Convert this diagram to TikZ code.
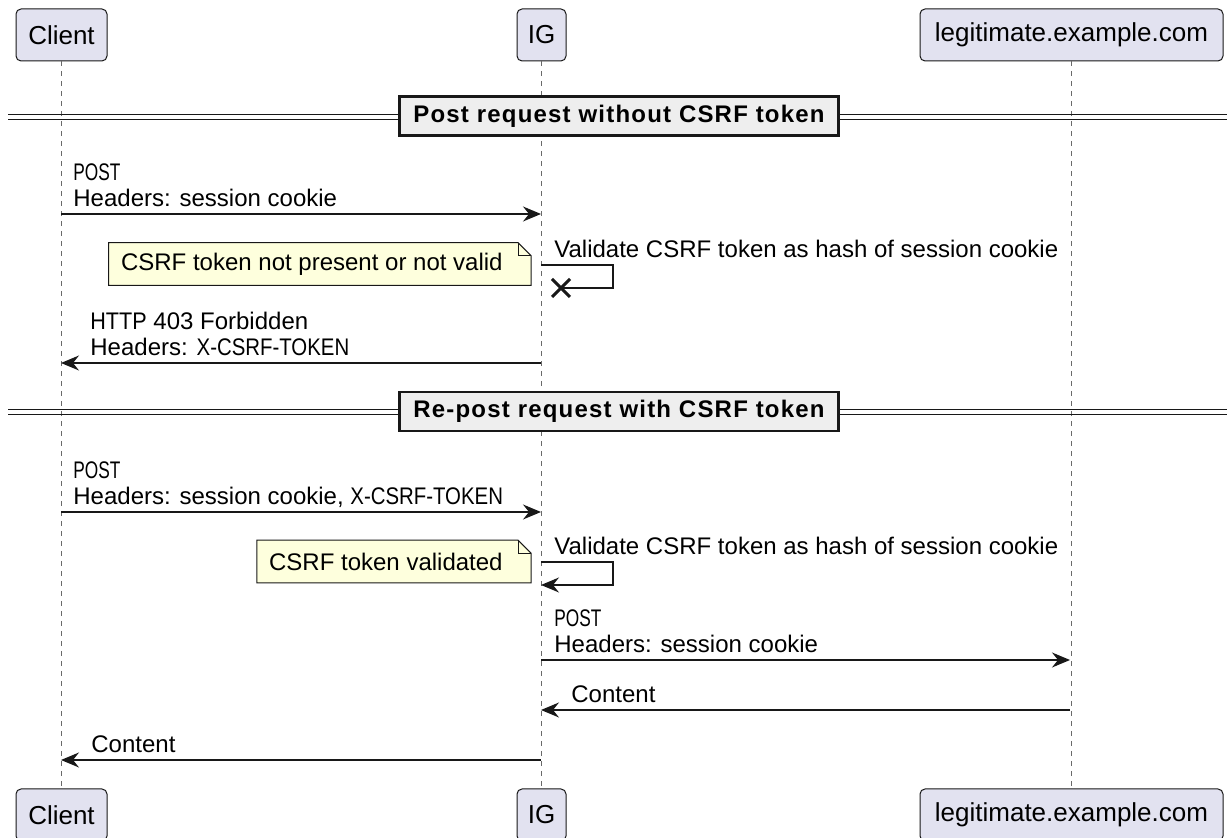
\documentclass[tikz,border=0pt]{standalone}
\usepackage{fontspec}
\setmainfont{Liberation Sans}
\newfontfamily\divfont[LetterSpace=5]{Liberation Sans}
\usetikzlibrary{arrows.meta,calc,backgrounds,shapes.misc}
\definecolor{partfill}{HTML}{E2E2F0}
\definecolor{notefill}{HTML}{FEFFDD}
\definecolor{divfill}{HTML}{EEEEEE}
\definecolor{ink}{HTML}{181818}
\newcommand{\tight}[2][0.85]{\scalebox{#1}[1]{#2}}
\tikzset{
  partbox/.style={draw=ink,fill=partfill,rounded corners=2.5pt,line width=0.5pt,
    minimum height=26pt,inner xsep=0pt,font=\fontsize{13}{15}\selectfont},
  life/.style={draw=ink!65,line width=0.5pt,dash pattern=on 2.5pt off 2.5pt},
  msg/.style={draw=ink,line width=0.75pt,-{Stealth[length=9pt,width=7.5pt,inset=3pt]}},
  loopline/.style={draw=ink,line width=0.75pt},
  lbl/.style={anchor=south west,inner sep=0pt,align=left,text depth=0pt,
    font=\fontsize{12}{13}\selectfont},
  divbox/.style={draw=ink,fill=divfill,line width=1.25pt,minimum height=19.5pt,
    inner xsep=7pt,font=\divfont\bfseries\fontsize{12}{14}\selectfont},
  divline/.style={draw=ink,line width=0.75pt},
  notetxt/.style={anchor=east,inner xsep=6pt,inner ysep=0pt,minimum height=21pt,
    font=\fontsize{12}{14}\selectfont},
  notebox/.style={draw=ink,fill=notefill,line width=0.5pt},
  lost/.style={draw=ink,cross out,line width=1.5pt,minimum size=7.5pt,inner sep=0pt},
}
\begin{document}
\begin{tikzpicture}[x=0.5pt,y=-0.5pt]
  \useasboundingbox (0,0) rectangle (1227,838);
  % participants, top and bottom
  \node[partbox,minimum width=45.5pt] (client) at (61.5,35) {Client};
  \node[partbox,minimum width=24.5pt] (ig) at (541.5,35) {IG};
  \node[partbox,minimum width=151.5pt] (site) at (1071.5,35) {legitimate.example.com};
  \node[partbox,minimum width=45.5pt] (clientB) at (61.5,815) {Client};
  \node[partbox,minimum width=24.5pt] (igB) at (541.5,815) {IG};
  \node[partbox,minimum width=151.5pt] (siteB) at (1071.5,815) {legitimate.example.com};
  \draw[life] (client.south) -- (clientB.north);
  \draw[life] (ig.south) -- (igB.north);
  \draw[life] (site.south) -- (siteB.north);

  % first section
  \draw[divline] (8,114.5) -- (1227,114.5) (8,119.5) -- (1227,119.5);
  \node[divbox] (div1) at (619,116) {Post request without CSRF token};

  \coordinate (c1) at (61,214); \coordinate (g1) at (541,214);
  \draw[msg] (c1) -- (g1);
  \node[lbl] (m1) at (73,207) {\tight[0.72]{POST}\\Headers: session cookie};

  \coordinate (g2) at (541,265);
  \node[lost] (x1) at (561,288) {};
  \draw[loopline] (g2) -- ++(72,0) |- (x1.center);
  \node[lbl] (m2) at (554,258) {Validate CSRF token as hash of session cookie};
  \node[notetxt] (n1) at (515,264) {CSRF token not present or not valid};

  \coordinate (g3) at (541,363); \coordinate (c3) at (61,363);
  \draw[msg] (g3) -- (c3);
  \node[lbl] (m3) at (90,356) {\tight[0.9]{HTTP} 403 Forbidden\\Headers: \tight{X-CSRF-TOKEN}};

  % second section
  \draw[divline] (8,409.5) -- (1227,409.5) (8,414.5) -- (1227,414.5);
  \node[divbox] (div2) at (619,411.5) {Re-post request with CSRF token};

  \coordinate (c4) at (61,512); \coordinate (g4) at (541,512);
  \draw[msg] (c4) -- (g4);
  \node[lbl] (m4) at (73,505) {\tight[0.72]{POST}\\Headers: session cookie, \tight{X-CSRF-TOKEN}};

  \coordinate (g5) at (541,562); \coordinate (g6) at (541,585);
  \draw[msg] (g5) -- ++(72,0) |- (g6);
  \node[lbl] (m5) at (554,555) {Validate CSRF token as hash of session cookie};
  \node[notetxt] (n2) at (515,561.5) {CSRF token validated};

  \coordinate (g7) at (541,660); \coordinate (s7) at (1070,660);
  \draw[msg] (g7) -- (s7);
  \node[lbl] (m7) at (554,653) {\tight[0.72]{POST}\\Headers: session cookie};

  \coordinate (s8) at (1070,710); \coordinate (g8) at (541,710);
  \draw[msg] (s8) -- (g8);
  \node[lbl] (m8) at (571,703) {Content};

  \coordinate (g9) at (541,760); \coordinate (c9) at (61,760);
  \draw[msg] (g9) -- (c9);
  \node[lbl] (m9) at (91,753) {Content};

  % note shapes with folded corner
  \begin{scope}[on background layer]
    \foreach \n in {n1,n2}{
      \draw[notebox] (\n.north west) -- ($(\n.north east)+(3,0)$)
        -- ($(\n.north east)+(16,13)$) -- ($(\n.south east)+(16,0)$)
        -- (\n.south west) -- cycle;
      \draw[notebox,fill=none] ($(\n.north east)+(3,0)$) -- ($(\n.north east)+(3,13)$)
        -- ($(\n.north east)+(16,13)$);
    }
  \end{scope}
\end{tikzpicture}
\end{document}
